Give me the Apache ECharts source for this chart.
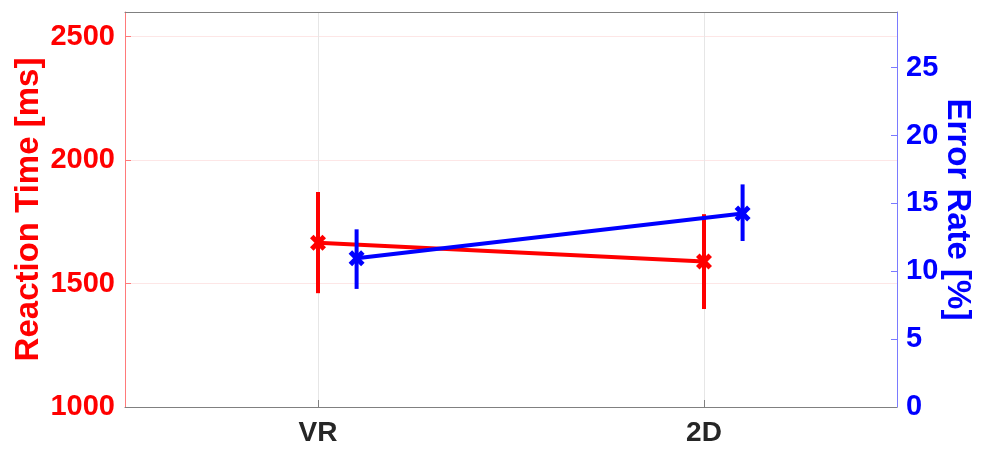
<!DOCTYPE html>
<html>
<head>
<meta charset="utf-8">
<script src="https://cdn.jsdelivr.net/npm/echarts@6/dist/echarts.min.js"></script>
<style>
  html, body { margin: 0; padding: 0; background: #ffffff; }
  #chart { width: 986px; height: 450px; }
</style>
</head>
<body>
<div id="chart"></div>
<script>
// Conditions and their positions on the x scale
const conditions = ['VR', '2D'];
const conditionPos = [1, 2];
const errorRateOffset = 0.1;   // error-rate markers sit slightly right of each condition

// Reaction time [ms]: mean with lower / upper error-bar ends
const reactionMean = [1665, 1589];
const reactionLow = [1461, 1397];
const reactionHigh = [1871, 1781];

// Error rate [%]: mean with lower / upper error-bar ends
const errorMean = [10.96, 14.26];
const errorLow = [8.70, 12.23];
const errorHigh = [13.09, 16.40];

// Axis tick labels
const reactionTicks = [1000, 1500, 2000, 2500];
const errorTicks = [0, 5, 10, 15, 20, 25];

const FONT = "'Liberation Sans', Arial, Helvetica, sans-serif";
const RED = '#ff0000';
const BLUE = '#0000ff';
const FRAME = '#808080';

// Thick "x" marker
const crossPath = 'path://M0,0.22 L0.22,0 L0.5,0.28 L0.78,0 L1,0.22 L0.72,0.5 L1,0.78 L0.78,1 L0.5,0.72 L0.22,1 L0,0.78 L0.28,0.5 Z';

function errorBar(params, api) {
  const x = api.value(0);
  const lo = api.coord([x, api.value(1)]);
  const hi = api.coord([x, api.value(2)]);
  return {
    type: 'line',
    shape: { x1: hi[0], y1: hi[1], x2: lo[0], y2: lo[1] },
    style: { stroke: api.visual('color'), lineWidth: 4, lineCap: 'butt' }
  };
}

const reactionPts = conditionPos.map((p, i) => [p, reactionMean[i]]);
const reactionBars = conditionPos.map((p, i) => [p, reactionLow[i], reactionHigh[i]]);
const errorPts = conditionPos.map((p, i) => [p + errorRateOffset, errorMean[i]]);
const errorBars = conditionPos.map((p, i) => [p + errorRateOffset, errorLow[i], errorHigh[i]]);

const chart = echarts.init(document.getElementById('chart'), null, { renderer: 'canvas' });

chart.setOption({
  animation: false,
  backgroundColor: '#ffffff',
  grid: {
    left: 125, right: 89, top: 12, bottom: 43,
    containLabel: false,
    outerBoundsMode: 'none',
    show: false
  },
  xAxis: [
    {
      type: 'value',
      position: 'bottom',
      min: 0.5,
      max: 2.5,
      z: 6,
      axisLine: { show: true, lineStyle: { color: FRAME, width: 1 } },
      axisTick: { show: true, inside: true, length: 7, customValues: conditionPos, lineStyle: { color: FRAME } },
      axisLabel: {
        customValues: conditionPos,
        formatter: v => conditions[conditionPos.indexOf(v)] || '',
        color: '#262626', fontFamily: FONT, fontWeight: 'bold', fontSize: 28, margin: 12
      },
      splitLine: { show: true, lineStyle: { color: '#e6e6e6', width: 1 } }
    },
    {
      // top edge of the box
      type: 'value',
      position: 'top',
      min: 0.5,
      max: 2.5,
      z: 6,
      axisLine: { show: true, lineStyle: { color: FRAME, width: 1 } },
      axisTick: { show: false },
      axisLabel: { show: false },
      splitLine: { show: false }
    }
  ],
  yAxis: [
    {
      type: 'value',
      position: 'left',
      min: 1000,
      max: 2600,
      interval: 500,
      z: 5,
      name: 'Reaction Time [ms]',
      nameLocation: 'middle',
      nameGap: 80,
      nameMoveOverlap: false,
      nameTextStyle: { color: RED, fontFamily: FONT, fontWeight: 'bold', fontSize: 33 },
      axisLine: { show: true, lineStyle: { color: '#ff7a7a', width: 1 } },
      axisTick: { show: true, inside: true, length: 6, customValues: reactionTicks, lineStyle: { color: '#ff7a7a' } },
      axisLabel: {
        customValues: reactionTicks,
        formatter: v => String(v),
        color: RED, fontFamily: FONT, fontWeight: 'bold', fontSize: 29, margin: 10
      },
      splitLine: { show: true, lineStyle: { color: '#fde6e6', width: 1 } }
    },
    {
      type: 'value',
      position: 'right',
      min: 0,
      max: 29.1,
      interval: 5,
      z: 5,
      name: 'Error Rate [%]',
      nameLocation: 'middle',
      nameRotate: -90,
      nameGap: 44,
      nameMoveOverlap: false,
      nameTextStyle: { color: BLUE, fontFamily: FONT, fontWeight: 'bold', fontSize: 33 },
      axisLine: { show: true, lineStyle: { color: '#7a7aff', width: 1 } },
      axisTick: { show: true, inside: true, length: 6, customValues: errorTicks, lineStyle: { color: '#7a7aff' } },
      axisLabel: {
        customValues: errorTicks,
        formatter: v => String(v),
        color: BLUE, fontFamily: FONT, fontWeight: 'bold', fontSize: 29, margin: 9
      },
      splitLine: { show: false }
    }
  ],
  series: [
    {
      name: 'Reaction Time error',
      type: 'custom',
      yAxisIndex: 0,
      renderItem: errorBar,
      itemStyle: { color: RED },
      encode: { x: 0, y: [1, 2] },
      data: reactionBars,
      z: 10
    },
    {
      name: 'Reaction Time',
      type: 'line',
      yAxisIndex: 0,
      data: reactionPts,
      lineStyle: { color: RED, width: 4 },
      itemStyle: { color: RED },
      symbol: crossPath,
      symbolSize: 16,
      z: 11
    },
    {
      name: 'Error Rate error',
      type: 'custom',
      yAxisIndex: 1,
      renderItem: errorBar,
      itemStyle: { color: BLUE },
      encode: { x: 0, y: [1, 2] },
      data: errorBars,
      z: 12
    },
    {
      name: 'Error Rate',
      type: 'line',
      yAxisIndex: 1,
      data: errorPts,
      lineStyle: { color: BLUE, width: 4 },
      itemStyle: { color: BLUE },
      symbol: crossPath,
      symbolSize: 16,
      z: 13
    }
  ]
});
</script>
</body>
</html>
